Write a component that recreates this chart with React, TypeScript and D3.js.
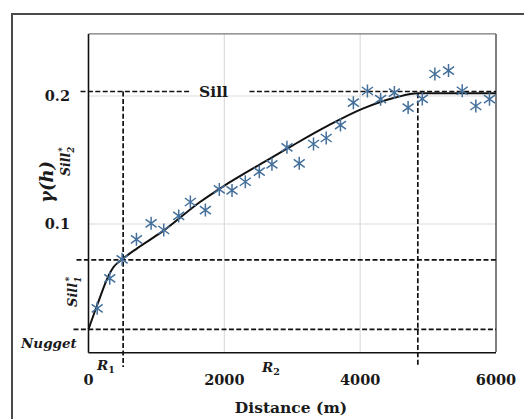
import React from "react";
import * as d3 from "d3";

// ---- data ----
const lagDistance = [128, 313, 495, 706, 922, 1108, 1328, 1500, 1721, 1926, 2113, 2309, 2515, 2701, 2922, 3103, 3313, 3500, 3710, 3900, 4107, 4301, 4504, 4706, 4915, 5100, 5301, 5503, 5703, 5904];
const lagGamma = [0.0341, 0.0576, 0.0724, 0.088, 0.1005, 0.0953, 0.1063, 0.1172, 0.1109, 0.127, 0.1262, 0.133, 0.1409, 0.1466, 0.1599, 0.1474, 0.1625, 0.1672, 0.1773, 0.1948, 0.2039, 0.1975, 0.2027, 0.191, 0.1977, 0.2172, 0.2199, 0.2041, 0.1922, 0.1975];

const modelDistance = [0, 128, 313, 372, 496, 716, 1084, 1647, 1941, 2628, 2922, 3049, 3540, 4029, 4519, 4853, 6000];
const modelGamma = [0.0177, 0.0367, 0.0615, 0.0666, 0.0724, 0.081, 0.094, 0.1174, 0.1279, 0.1497, 0.1588, 0.1627, 0.1772, 0.1899, 0.1988, 0.2021, 0.2021];

const nugget = 0.0177;
const sill1 = 0.0719;
const sill = 0.2035;
const range1 = 510;
const range2 = 4849;

const xTicks = [0, 2000, 4000, 6000];
const yTicks = [0.1, 0.2];
const xGrid = [2000, 4000];
const xDomain = [0, 6000];
const yDomain = [0, 0.25];
const yTop = 0.2485;

const serif = "'DejaVu Serif', serif";

export default function App() {
  const W = 524, H = 419;
  const x = d3.scaleLinear().domain(xDomain).range([88.5, 496]);
  const y = d3.scaleLinear().domain(yDomain).range([352, 32]);
  const x0 = x(0), x1 = x(6000), yB = y(0), yT = y(yTop);

  const line = d3
    .line<number>()
    .x((_, i) => x(modelDistance[i]))
    .y((d) => y(d))
    .curve(d3.curveMonotoneX);

  const dashStyle = { stroke: "#111", strokeWidth: 1.7, strokeDasharray: "5,2.4", fill: "none" } as const;
  const markerColor = "#44709b";
  const star = "M0,-6.5V6.5M-5.5,-4L5.5,4M-5.5,4L5.5,-4";
  const sillLabelX = 213.5;

  return (
    <svg width={W} height={H} style={{ position: "absolute", left: 0, top: 0, background: "#fff" }}>
      {/* outer frame */}
      <path d={`M12,${H}V14H${W}`} fill="none" stroke="#4a4a4a" strokeWidth={2} />

      {/* grid */}
      {xGrid.map((v) => (
        <line key={"gx" + v} x1={x(v)} x2={x(v)} y1={yT} y2={yB} stroke="#dcdcdc" strokeWidth={1.2} />
      ))}
      {yTicks.map((v) => (
        <line key={"gy" + v} x1={x0} x2={x1} y1={y(v)} y2={y(v)} stroke="#dcdcdc" strokeWidth={1.2} />
      ))}

      {/* plot frame */}
      <line x1={x0} x2={x1} y1={yT} y2={yT} stroke="#777" strokeWidth={1.2} />
      <line x1={x1} x2={x1} y1={yT} y2={yB} stroke="#555" strokeWidth={1.5} />

      {/* dashed reference lines */}
      <line x1={x0 - 8} x2={sillLabelX - 24} y1={y(sill)} y2={y(sill)} style={dashStyle} />
      <line x1={sillLabelX + 36} x2={x1} y1={y(sill)} y2={y(sill)} style={dashStyle} />
      <line x1={x0 - 12} x2={x1} y1={y(sill1)} y2={y(sill1)} style={dashStyle} />
      <line x1={x0 - 15} x2={x1} y1={y(nugget)} y2={y(nugget)} style={dashStyle} />
      <line x1={x(range1)} x2={x(range1)} y1={y(sill)} y2={yB + 15} style={dashStyle} />
      <line x1={x(range2)} x2={x(range2)} y1={y(0.2021)} y2={yB + 14} style={dashStyle} />

      {/* axes */}
      <line x1={x0} x2={x0} y1={yT} y2={yB + 0.7} stroke="#111" strokeWidth={1.6} />
      <line x1={x0} x2={x1} y1={yB + 0.7} y2={yB + 0.7} stroke="#111" strokeWidth={1.6} />

      {/* model curve */}
      <path d={line(modelGamma) || ""} fill="none" stroke="#111" strokeWidth={2} />

      {/* experimental points */}
      {lagDistance.map((d, i) => (
        <path
          key={"p" + i}
          d={star}
          transform={`translate(${x(d)},${y(lagGamma[i])})`}
          stroke={markerColor}
          strokeWidth={1.5}
          fill="none"
        />
      ))}

      {/* tick labels */}
      {xTicks.map((v) => (
        <text key={"tx" + v} x={x(v)} y={385} textAnchor="middle" fontFamily={serif} fontWeight="bold" fontSize={14.5} fill="#1a1a1a">
          {v}
        </text>
      ))}
      {yTicks.map((v) => (
        <text key={"ty" + v} x={70} y={y(v)} dy="0.36em" textAnchor="end" fontFamily={serif} fontWeight="bold" fontSize={14.5} fill="#1a1a1a">
          {v}
        </text>
      ))}

      {/* annotations */}
      <text x={sillLabelX} y={y(sill)} dy="0.36em" textAnchor="middle" fontFamily={serif} fontWeight="bold" fontSize={15.5} fill="#1a1a1a">
        Sill
      </text>
      <text x={291} y={413} textAnchor="middle" fontFamily={serif} fontWeight="bold" fontSize={15.5} fill="#1a1a1a">
        Distance (m)
      </text>
      <text
        transform="translate(53,182) rotate(-90)"
        textAnchor="middle"
        fontFamily={serif}
        fontWeight="bold"
        fontStyle="italic"
        fontSize={18}
        fill="#1a1a1a"
      >
        γ(h)
      </text>
      <text transform="translate(70,176) rotate(-90)" fontFamily={serif} fontWeight="bold" fontStyle="italic" fontSize={12.5} fill="#1a1a1a">
        Sill
        <tspan fontSize={8.5} dy={4}>2</tspan>
        <tspan fontSize={8.5} dx={-5} dy={-9}>*</tspan>
      </text>
      <text transform="translate(77,307) rotate(-90)" fontFamily={serif} fontWeight="bold" fontStyle="italic" fontSize={13} fill="#1a1a1a">
        Sill
        <tspan fontSize={9} dy={4}>1</tspan>
        <tspan fontSize={9} dx={-5} dy={-9}>*</tspan>
      </text>
      <text x={21} y={348} fontFamily={serif} fontWeight="bold" fontStyle="italic" fontSize={13.5} fill="#1a1a1a">
        Nugget
      </text>
      <text x={97} y={370} fontFamily={serif} fontWeight="bold" fontStyle="italic" fontSize={13.5} fill="#1a1a1a">
        R<tspan fontSize={9.5} dy={3} fontStyle="normal">1</tspan>
      </text>
      <text x={262} y={372} fontFamily={serif} fontWeight="bold" fontStyle="italic" fontSize={13.5} fill="#1a1a1a">
        R<tspan fontSize={9.5} dy={3} fontStyle="normal">2</tspan>
      </text>
    </svg>
  );
}
